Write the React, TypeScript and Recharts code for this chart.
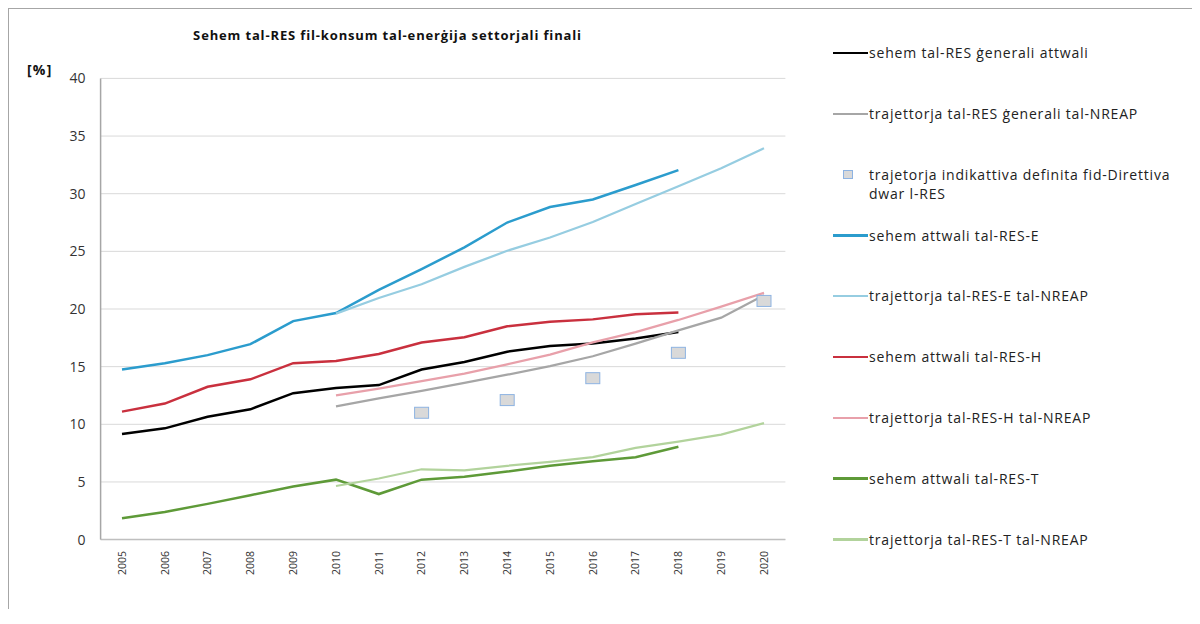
import React from 'react';
import {
  LineChart,
  Line,
  XAxis,
  YAxis,
  CartesianGrid,
} from 'recharts';

const years = [
  '2005', '2006', '2007', '2008', '2009', '2010', '2011', '2012',
  '2013', '2014', '2015', '2016', '2017', '2018', '2019', '2020',
];

const yTicks = [0, 5, 10, 15, 20, 25, 30, 35, 40];

const actualTotal = [9.15, 9.65, 10.65, 11.3, 12.7, 13.15, 13.4, 14.75, 15.4, 16.3, 16.8, 17.0, 17.45, 18.0, null, null];
const nreapTotal = [null, null, null, null, null, 11.55, 12.25, 12.9, 13.6, 14.3, 15.05, 15.9, 17.0, 18.15, 19.25, 21.2];
const indicative = [null, null, null, null, null, null, null, 11.0, null, 12.1, null, 14.0, null, 16.2, null, 20.7];
const actualE = [14.75, 15.3, 16.0, 16.95, 18.95, 19.65, 21.65, 23.45, 25.35, 27.5, 28.85, 29.5, 30.75, 32.05, null, null];
const nreapE = [null, null, null, null, null, 19.6, 20.95, 22.15, 23.65, 25.05, 26.2, 27.55, 29.1, 30.65, 32.2, 33.95];
const actualH = [11.1, 11.8, 13.25, 13.9, 15.3, 15.5, 16.1, 17.1, 17.55, 18.5, 18.9, 19.1, 19.55, 19.7, null, null];
const nreapH = [null, null, null, null, null, 12.5, 13.1, 13.75, 14.4, 15.2, 16.05, 17.1, 18.0, 19.05, 20.2, 21.4];
const actualT = [1.85, 2.4, 3.1, 3.85, 4.6, 5.2, 3.95, 5.2, 5.45, 5.9, 6.4, 6.8, 7.15, 8.05, null, null];
const nreapT = [null, null, null, null, null, 4.65, 5.3, 6.1, 6.0, 6.4, 6.75, 7.15, 7.95, 8.5, 9.1, 10.1];

const series = [
  { key: 'actualTotal', name: 'sehem tal-RES ġenerali attwali', color: '#000000', width: 2.5 },
  { key: 'nreapTotal', name: 'trajettorja tal-RES ġenerali tal-NREAP', color: '#a6a6a6', width: 2.25 },
  { key: 'indicative', name: 'trajetorja indikattiva definita fid-Direttiva|dwar l-RES', color: '#d9d9d9', width: 0 },
  { key: 'actualE', name: 'sehem attwali tal-RES-E', color: '#2b9ccd', width: 2.5 },
  { key: 'nreapE', name: 'trajettorja tal-RES-E tal-NREAP', color: '#96cde1', width: 2.25 },
  { key: 'actualH', name: 'sehem attwali tal-RES-H', color: '#c9303e', width: 2.5 },
  { key: 'nreapH', name: 'trajettorja tal-RES-H tal-NREAP', color: '#e8a0aa', width: 2.25 },
  { key: 'actualT', name: 'sehem attwali tal-RES-T', color: '#5e9a38', width: 2.5 },
  { key: 'nreapT', name: 'trajettorja tal-RES-T tal-NREAP', color: '#b2d39c', width: 2.25 },
];

const data = years.map((year, i) => ({
  year,
  actualTotal: actualTotal[i],
  nreapTotal: nreapTotal[i],
  indicative: indicative[i],
  actualE: actualE[i],
  nreapE: nreapE[i],
  actualH: actualH[i],
  nreapH: nreapH[i],
  actualT: actualT[i],
  nreapT: nreapT[i],
}));

const FONT = '"Open Sans", "DejaVu Sans", sans-serif';

const YearTick = (props: any) => {
  const { x, y, payload } = props;
  return (
    <g transform={`translate(${x},${y})`}>
      <text
        transform="rotate(-90)"
        x={-9.5}
        y={0}
        dy="0.36em"
        textAnchor="end"
        fontFamily={FONT}
        fontSize={10.5}
        fill="#333"
      >
        {payload.value}
      </text>
    </g>
  );
};

const SquareDot = (props: any) => {
  const { cx, cy, index, value } = props;
  if (value == null || cy == null || isNaN(cy)) return <g key={`sq-${index}`} />;
  return (
    <rect
      key={`sq-${index}`}
      x={cx - 7}
      y={cy - 5.5}
      width={14}
      height={11}
      fill="#d9d9d9"
      stroke="#8db3e2"
      strokeWidth={1}
    />
  );
};

const LegendBox = () => (
  <div
    style={{
      position: 'absolute',
      left: 824,
      top: 0,
      fontFamily: FONT,
      fontSize: 14,
      letterSpacing: '0.8px',
      color: '#222',
    }}
  >
    {series.map((s, i) => {
      const lines = s.name.split('|');
      return (
        <div
          key={s.key}
          style={{ position: 'absolute', left: 0, top: 43.7 + i * 60.8 - 9.5, display: 'flex', width: 370 }}
        >
          <div style={{ width: 36, height: 19, position: 'relative', flexShrink: 0 }}>
            {s.key === 'indicative' ? (
              <div
                style={{
                  position: 'absolute',
                  left: 10,
                  top: 5,
                  width: 8,
                  height: 7,
                  background: '#d9d9d9',
                  border: '1px solid #8db3e2',
                }}
              />
            ) : (
              <div
                style={{
                  position: 'absolute',
                  left: 0,
                  top: 8.5,
                  width: 35,
                  height: 2.5,
                  background: s.color,
                }}
              />
            )}
          </div>
          <div style={{ lineHeight: '19px', whiteSpace: 'nowrap' }}>
            {lines.map((l, j) => (
              <div key={j}>{l}</div>
            ))}
          </div>
        </div>
      );
    })}
  </div>
);

const App: React.FC = () => {
  return (
    <div
      style={{
        position: 'relative',
        width: 1183,
        height: 600,
        borderLeft: '1px solid #a6a6a6',
        borderTop: '1px solid #a6a6a6',
        background: '#fff',
      }}
    >
      <div
        style={{
          position: 'absolute',
          left: 378.5,
          top: 17,
          transform: 'translateX(-50%)',
          fontFamily: FONT,
          fontSize: 13,
          letterSpacing: '0.85px',
          fontWeight: 700,
          whiteSpace: 'nowrap',
          color: '#111',
        }}
      >
        Sehem tal-RES fil-konsum tal-enerġija settorjali finali
      </div>
      <div
        style={{
          position: 'absolute',
          left: 18,
          top: 51,
          fontFamily: FONT,
          fontSize: 14,
          letterSpacing: '1.2px',
          fontWeight: 700,
          color: '#111',
        }}
      >
        [%]
      </div>
      <LineChart
        width={1183}
        height={600}
        data={data}
        margin={{ top: 69.4, right: 406.6, left: 31.6, bottom: 29.4 }}
      >
        <CartesianGrid vertical={false} stroke="#d9d9d9" strokeWidth={1} />
        <XAxis
          dataKey="year"
          interval={0}
          height={40}
          padding={{ left: 21.4, right: 21.4 }}
          tickLine={false}
          tickSize={0}
          axisLine={{ stroke: '#bfbfbf', strokeWidth: 1.5 }}
          tick={<YearTick />}
        />
        <YAxis
          width={60}
          domain={[0, 40]}
          ticks={yTicks}
          interval={0}
          tickLine={false}
          tickSize={0}
          tickMargin={15}
          axisLine={{ stroke: '#a6a6a6', strokeWidth: 1.5 }}
          tick={{ fontFamily: FONT, fontSize: 14, fill: '#333' }}
        />
        {series.map((s) =>
          s.key === 'indicative' ? (
            <Line
              key={s.key}
              dataKey={s.key}
              name={s.name}
              stroke="none"
              dot={<SquareDot />}
              activeDot={false}
              isAnimationActive={false}
            />
          ) : (
            <Line
              key={s.key}
              dataKey={s.key}
              name={s.name}
              type="linear"
              stroke={s.color}
              strokeWidth={s.width}
              dot={false}
              activeDot={false}
              isAnimationActive={false}
            />
          )
        )}
      </LineChart>
      <LegendBox />
    </div>
  );
};

export default App;
